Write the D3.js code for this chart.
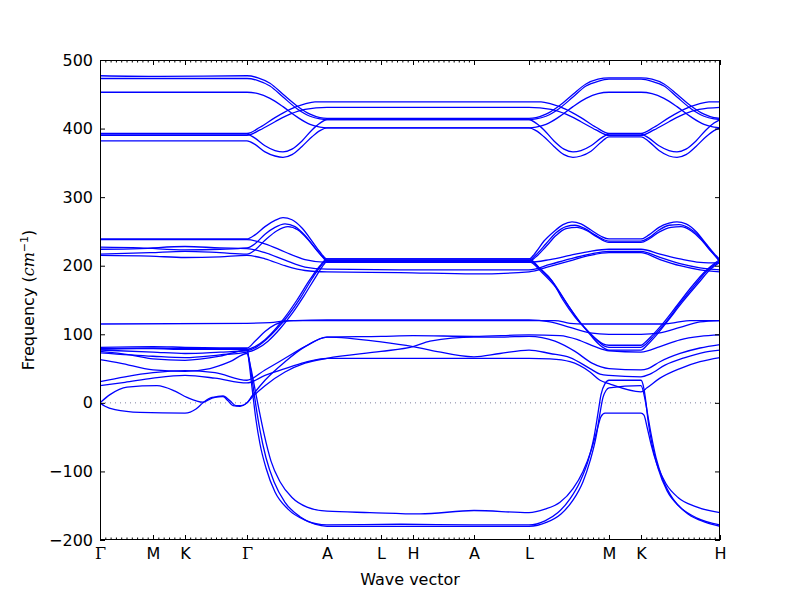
<!DOCTYPE html>
<html><head><meta charset="utf-8">
<script src="https://cdn.jsdelivr.net/npm/d3@7"></script>
<style>body{margin:0;background:#fff} svg{display:block}</style>
</head><body>
<svg id="c" width="800" height="600"></svg>
<script>
// ---- data ----
const qLabels = ['Γ','M','K','Γ','A','L','H','A','L','M','K','H'];
const qPositions = [0,53,85,147,227,281,313,374,429,509,541,620];
const yTicks = [-200,-100,0,100,200,300,400,500];
// minor tick counts per segment (q-point spacing along each path segment)
const segmentSteps = [10,6,12,15,10,6,12,0,15,0,15];

const highBands = [
 [[0,477],[60,476],[147,477],[158,474],[170,466],[183,450],[197,433],[210,421],[220,416],[227,415],[429,415],[436,416],[446,421],[459,433],[473,450],[486,465],[498,472],[509,474],[541,474],[552,472],[564,465],[577,450],[591,433],[604,421],[614,416],[620,415]],
 [[0,473],[147,473],[158,470],[170,462],[183,446],[197,429],[210,418],[220,414],[227,413],[429,413],[436,414],[446,418],[459,429],[473,446],[486,462],[498,469],[509,472],[541,472],[552,469],[564,462],[577,446],[591,429],[604,418],[614,414],[620,413]],
 [[0,453],[147,453],[158,451],[170,444],[183,432],[197,417],[210,406],[220,402],[227,401],[429,401],[436,402],[446,406],[459,417],[473,432],[486,444],[498,451],[509,453],[541,453],[552,451],[564,444],[577,432],[591,417],[604,406],[614,402],[620,401]],
 [[0,393],[147,393],[160,402],[175,416],[190,428],[205,436],[215,439],[227,439],[429,439],[441,439],[451,436],[466,428],[481,416],[496,402],[509,393],[541,393],[554,402],[569,416],[584,428],[599,436],[609,439],[620,439]],
 [[0,390],[147,390],[160,398],[175,410],[190,421],[205,428],[227,431],[429,431],[451,428],[466,421],[481,410],[496,398],[509,390],[541,390],[554,398],[569,410],[584,421],[599,428],[620,431]],
 [[0,392],[147,392],[155,386],[165,375],[175,368],[183,366],[192,370],[202,382],[212,398],[220,408],[227,413],[429,413],[436,408],[444,398],[454,382],[464,370],[473,366],[481,368],[491,375],[501,386],[509,392],[541,392],[549,386],[559,375],[569,368],[577,366],[586,370],[596,382],[606,398],[614,408],[620,413]],
 [[0,382],[147,382],[155,377],[165,366],[175,360],[183,358],[192,362],[202,374],[212,388],[220,397],[227,401],[429,401],[436,397],[444,388],[454,374],[464,362],[473,358],[481,360],[491,367],[501,380],[509,388],[541,388],[549,381],[559,368],[569,360],[577,358],[586,362],[596,374],[606,388],[614,397],[620,401]]
];

const midBands = [
 [[0,239],[147,239],[155,245],[165,257],[175,266],[183,270],[192,267],[202,255],[212,236],[220,220],[227,210],[429,210],[436,220],[444,236],[454,250],[463,260],[472,264],[481,261],[491,252],[501,243],[509,239],[541,239],[549,245],[559,256],[569,262],[577,264],[586,261],[596,250],[606,232],[614,218],[620,209]],
 [[0,238],[147,238],[165,232],[185,220],[205,209],[227,205],[429,205],[450,209],[470,215],[490,221],[509,224],[541,224],[560,217],[580,210],[600,205],[620,204]],
 [[0,227],[40,226],[85,223],[120,224],[147,226],[155,232],[165,246],[175,256],[185,261],[195,257],[205,244],[215,226],[222,214],[227,208],[429,208],[436,216],[446,232],[456,248],[466,257],[475,259],[485,254],[495,245],[509,236],[541,236],[549,241],[559,252],[569,259],[579,260],[589,255],[599,243],[609,225],[616,213],[620,207]],
 [[0,224],[40,225],[85,228],[120,226],[147,225],[165,219],[185,208],[205,198],[227,195],[300,194],[429,194],[450,202],[470,210],[490,217],[509,221],[541,221],[560,212],[580,203],[600,197],[620,194]],
 [[0,217],[50,219],[85,221],[120,219],[147,217],[155,223],[165,237],[177,251],[188,257],[198,252],[208,238],[217,222],[223,212],[227,206],[429,206],[436,213],[446,228],[456,244],[466,254],[477,256],[487,251],[497,242],[509,234],[541,234],[549,239],[559,249],[571,256],[581,257],[591,251],[601,238],[611,221],[617,211],[620,205]],
 [[0,215],[50,214],[85,212],[120,213],[147,215],[165,210],[185,200],[205,193],[227,191],[300,190],[374,188],[429,191],[450,199],[470,207],[490,215],[509,219],[541,219],[560,209],[580,200],[600,194],[620,191]]
];

const lowBands = [
 [[0,115],[147,116],[170,117],[190,120],[227,120],[429,120],[455,120],[470,116],[485,115],[509,115],[541,115],[560,115],[575,117],[590,120],[620,120]],
 [[0,81],[53,82],[85,81],[147,80],[155,90],[165,104],[175,114],[185,119],[195,120],[227,121],[429,121],[450,118],[470,110],[490,102],[509,100],[541,100],[560,102],[580,110],[600,118],[620,120]],
 [[0,79],[53,79],[85,78],[147,78],[155,82],[165,92],[175,107],[185,125],[197,150],[210,180],[220,200],[227,210],[429,210],[440,196],[452,178],[463,150],[475,125],[487,106],[497,92],[503,86],[509,84],[541,84],[545,88],[552,98],[563,116],[577,142],[592,170],[606,193],[615,204],[620,209]],
 [[0,77],[53,74],[85,72],[120,74],[147,76],[156,81],[166,92],[177,108],[188,127],[200,152],[212,181],[221,200],[227,208],[429,208],[441,194],[454,174],[466,147],[478,121],[489,103],[498,90],[504,83],[509,81],[541,81],[546,86],[554,98],[566,118],[580,145],[595,172],[608,194],[616,203],[620,207]],
 [[0,73],[53,68],[85,66],[120,70],[147,74],[157,79],[168,90],[180,108],[192,130],[204,156],[215,182],[222,198],[227,206],[429,206],[442,190],[456,168],[469,140],[481,116],[491,98],[500,84],[505,79],[509,77],[541,77],[547,84],[556,98],[568,120],[583,148],[598,174],[610,194],[617,202],[620,205]],
 [[0,78],[53,80],[85,79],[147,79],[149,60],[151,35],[153,10],[156,-25],[160,-60],[166,-95],[175,-130],[188,-155],[205,-171],[227,-178],[300,-177],[374,-178],[429,-178],[445,-172],[458,-160],[470,-140],[480,-115],[488,-85],[494,-50],[498,-15],[501,12],[505,28],[509,33],[541,33],[544,20],[546,0],[548,-25],[552,-60],[558,-95],[567,-128],[580,-152],[597,-168],[620,-178]],
 [[0,75],[30,70],[53,64],[85,62],[120,68],[147,77],[150,55],[153,25],[156,-5],[160,-40],[166,-80],[174,-115],[185,-145],[200,-166],[215,-177],[227,-180],[429,-180],[447,-174],[461,-162],[473,-142],[483,-115],[490,-85],[496,-50],[500,-15],[503,8],[506,18],[509,22],[541,25],[545,5],[548,-20],[551,-45],[556,-80],[563,-112],[573,-140],[588,-162],[605,-174],[620,-180]],
 [[0,63],[20,58],[53,48],[85,46],[110,50],[130,60],[147,72],[151,50],[155,20],[159,-10],[164,-45],[171,-85],[180,-115],[192,-138],[207,-152],[227,-158],[270,-160],[320,-162],[374,-157],[429,-160],[445,-155],[460,-145],[473,-125],[483,-100],[491,-70],[497,-40],[501,-20],[505,-15],[509,-15],[541,-15],[544,-18],[547,-35],[551,-60],[557,-90],[566,-118],[578,-138],[595,-151],[620,-160]],
 [[0,31],[25,38],[53,44],[85,47],[115,44],[147,33],[165,48],[185,65],[205,82],[227,96],[281,89],[313,82],[330,77],[374,67],[400,72],[429,77],[450,72],[470,66],[490,50],[500,42],[509,40],[541,38],[550,42],[565,55],[585,66],[605,74],[620,77]],
 [[0,0],[10,12],[27,23],[57,25],[75,17],[87,8],[103,1],[112,7],[123,10],[130,3],[136,-4],[141,-4],[147,0],[152,10],[165,33],[185,60],[205,82],[227,96],[281,97],[313,98],[374,97],[429,99],[460,98],[478,92],[495,82],[509,76],[541,74],[560,82],[580,92],[600,97],[620,99]],
 [[0,25],[25,30],[53,36],[85,40],[115,36],[147,29],[165,40],[185,50],[205,59],[227,65],[429,65],[450,64],[470,60],[490,45],[500,33],[509,28],[541,16],[547,22],[560,36],[580,50],[600,60],[620,66]],
 [[0,0],[5,-5],[15,-10],[40,-14],[85,-15],[96,-9],[103,0],[112,8],[123,9],[128,3],[133,-4],[140,-5],[147,0],[152,8],[165,25],[185,45],[205,58],[227,65],[281,75],[313,82],[330,90],[374,96],[400,96],[429,97],[455,90],[475,75],[492,58],[509,50],[541,48],[548,50],[560,60],[580,72],[600,80],[620,85]]
];

// ---- drawing ----
const W = 800, H = 600;
const svg = d3.select('#c');
svg.append('rect').attr('width', W).attr('height', H).attr('fill', '#fff');

const x = d3.scaleLinear().domain([0, 620]).range([100, 720]);
const y = d3.scaleLinear().domain([-200, 500]).range([540, 60]);

svg.append('defs').append('clipPath').attr('id', 'plotclip')
  .append('rect').attr('x', 100).attr('y', 60).attr('width', 620).attr('height', 480);

// zero reference line
svg.append('line')
  .attr('x1', x(0)).attr('x2', x(620)).attr('y1', y(0)).attr('y2', y(0))
  .attr('stroke', '#7f7f9f').attr('stroke-width', 1).attr('stroke-dasharray', '1,4');

const allBands = [...highBands, ...midBands, ...lowBands];
const line = d3.line().x(d => x(d[0])).y(d => y(d[1])).curve(d3.curveMonotoneX);
svg.append('g').attr('clip-path', 'url(#plotclip)')
  .selectAll('path').data(allBands).join('path')
  .attr('d', line).attr('fill', 'none').attr('stroke', '#0000ff').attr('stroke-width', 1.3);

// minor ticks along the path
const minorTicks = [];
for (let i = 0; i < segmentSteps.length; i++) {
  const a = qPositions[i], b = qPositions[i + 1], n = segmentSteps[i];
  for (let k = 1; k < n; k++) minorTicks.push(a + (b - a) * k / n);
}

const font = 'DejaVu Sans, sans-serif';

function styleAxis(g) {
  g.select('.domain').remove();
  g.selectAll('line').attr('stroke', '#000');
  g.selectAll('text').attr('font-family', font).attr('font-size', 16).attr('fill', '#000');
}

// bottom major + labels
const gB = svg.append('g').attr('transform', 'translate(0,540)')
  .call(d3.axisBottom(x).tickValues(qPositions).tickFormat((d, i) => qLabels[i]).tickSize(-5).tickPadding(8));
styleAxis(gB);
gB.selectAll('text').filter(function () { return this.textContent === 'Γ'; })
  .attr('font-family', 'DejaVu Serif, serif');
// bottom minor
styleAxis(svg.append('g').attr('transform', 'translate(0,540)')
  .call(d3.axisBottom(x).tickValues(minorTicks).tickFormat('').tickSize(-2.5)));
// top major + minor
styleAxis(svg.append('g').attr('transform', 'translate(0,60)')
  .call(d3.axisTop(x).tickValues(qPositions).tickFormat('').tickSize(-5)));
styleAxis(svg.append('g').attr('transform', 'translate(0,60)')
  .call(d3.axisTop(x).tickValues(minorTicks).tickFormat('').tickSize(-2.5)));
// left
const gL = svg.append('g').attr('transform', 'translate(100,0)')
  .call(d3.axisLeft(y).tickValues(yTicks).tickFormat(d3.format('d')).tickSize(-5).tickPadding(7));
styleAxis(gL);
gL.selectAll('text').text(d => d < 0 ? '\u2212' + Math.abs(d) : d);
// right
styleAxis(svg.append('g').attr('transform', 'translate(720,0)')
  .call(d3.axisRight(y).tickValues(yTicks).tickFormat('').tickSize(-5)));

// frame
svg.append('rect').attr('x', 100.5).attr('y', 60.5).attr('width', 619).attr('height', 479)
  .attr('fill', 'none').attr('stroke', '#000').attr('stroke-width', 1);

// axis titles
svg.append('text').attr('x', 410).attr('y', 585).attr('text-anchor', 'middle')
  .attr('font-family', font).attr('font-size', 16).text('Wave vector');

const yl = svg.append('text').attr('transform', 'translate(34,300) rotate(-90)')
  .attr('text-anchor', 'middle').attr('font-family', font).attr('font-size', 16);
yl.append('tspan').text('Frequency (');
yl.append('tspan').attr('font-family', 'DejaVu Serif, serif').attr('font-style', 'italic').text('cm');
yl.append('tspan').attr('font-size', 11).attr('dy', -6).text('\u22121');
yl.append('tspan').attr('dy', 6).text(')');
</script>
</body></html>
